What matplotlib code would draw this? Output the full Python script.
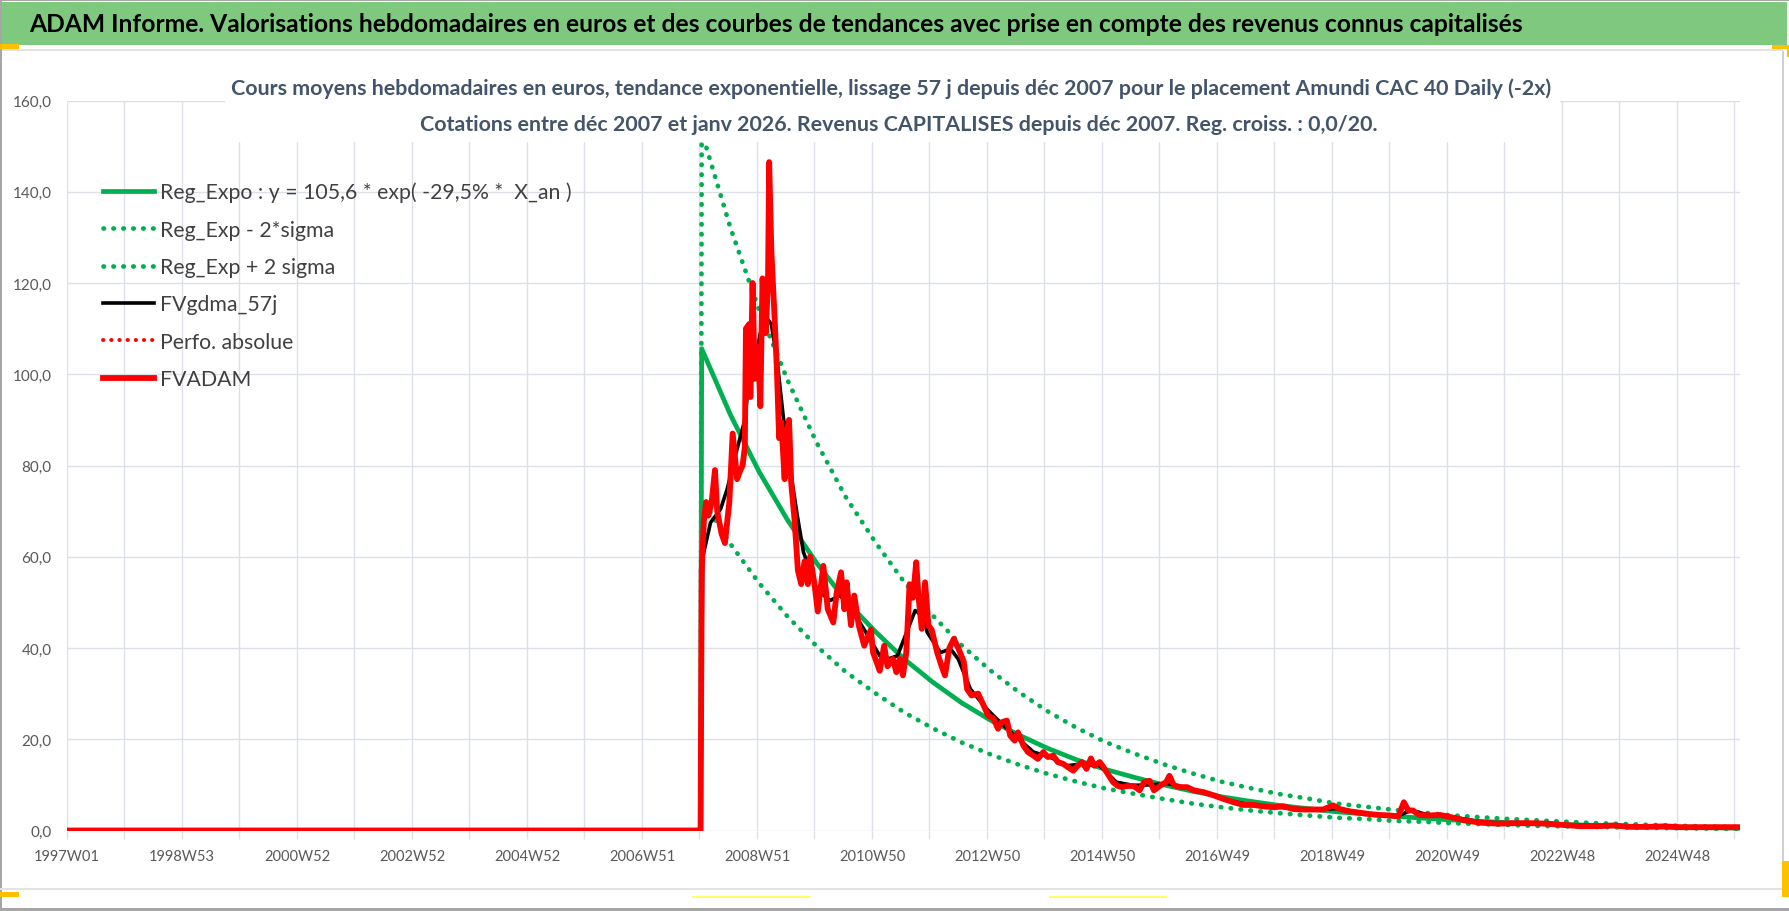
import matplotlib
matplotlib.use("Agg")
import matplotlib.pyplot as plt
from matplotlib import font_manager
from matplotlib.patches import Rectangle

W, H = 1790, 912

installed = {f.name for f in font_manager.fontManager.ttflist}
FONT = "Liberation Sans Narrow" if "Liberation Sans Narrow" in installed else "Lato"

# ---- data (week index counted from 1997W01) ----
x_tick_labels = ["1997W01", "1998W53", "2000W52", "2002W52", "2004W52", "2006W51",
                 "2008W51", "2010W50", "2012W50", "2014W50", "2016W49", "2018W49",
                 "2020W49", "2022W48", "2024W48"]
n_weeks = 1513

# exponential trend and +/- 2 sigma bands, read every half year
reg_weeks = [0, 573, 574, 600, 626, 652, 678, 704, 731, 757, 783, 809, 835, 861, 887,
             913, 939, 966, 992, 1018, 1044, 1070, 1096, 1122, 1148, 1175, 1201, 1227,
             1253, 1279, 1305, 1331, 1357, 1383, 1409, 1436, 1462, 1488, 1513]
reg_vals = [0, 0, 105.6, 91.1, 78.6, 67.9, 58.6, 50.5, 43.6, 37.6, 32.5, 28.0, 24.2,
            20.9, 18.0, 15.5, 13.4, 11.6, 10.0, 8.6, 7.4, 6.4, 5.5, 4.8, 4.1, 3.6, 3.1,
            2.7, 2.3, 2.0, 1.7, 1.5, 1.3, 1.1, 0.94, 0.81, 0.70, 0.60, 0.52]
up_vals = [0, 0, 153.1, 132.1, 114.0, 98.5, 85.0, 73.2, 63.2, 54.5, 47.1, 40.6, 35.1,
           30.3, 26.1, 22.5, 19.4, 16.8, 14.5, 12.5, 10.7, 9.3, 8.0, 7.0, 5.9, 5.2, 4.5,
           3.9, 3.3, 2.9, 2.5, 2.2, 1.9, 1.6, 1.4, 1.2, 1.0, 0.87, 0.75]
lo_vals = [0, 0, 72.8, 62.8, 54.2, 46.8, 40.4, 34.8, 30.1, 25.9, 22.4, 19.3, 16.7,
           14.4, 12.4, 10.7, 9.2, 8.0, 6.9, 5.9, 5.1, 4.4, 3.8, 3.3, 2.8, 2.5, 2.1,
           1.9, 1.6, 1.4, 1.2, 1.0, 0.9, 0.8, 0.65, 0.56, 0.48, 0.41, 0.36]

# FVgdma_57j (smoothed)
gdma_weeks = [0, 573, 575, 582, 591, 597, 606, 613, 615, 620, 627, 633, 637, 642, 648,
              651, 654, 660, 666, 678, 690, 699, 708, 717, 726, 735, 744, 751, 757, 767,
              774, 778, 790, 799, 806, 817, 832, 844, 859, 874, 889, 904, 919, 934, 949,
              964, 980, 995, 1010, 1030, 1050, 1070, 1090, 1110, 1130, 1150, 1170, 1190,
              1205, 1215, 1230, 1250, 1280, 1320, 1360, 1400, 1440, 1480, 1513]
gdma_vals = [0, 0, 60, 67.5, 70.4, 74.8, 83.6, 90, 94.7, 100, 109, 112.2, 111, 103.4,
             90.2, 86.5, 79.3, 69.7, 61, 52.9, 50.4, 51.5, 49.3, 45.6, 42, 38.3, 37.7,
             38.3, 42, 48.2, 47.1, 43.4, 39, 39.8, 37.6, 31, 26.6, 23.7, 20.4, 17.2, 16.1,
             14.2, 14.6, 14.2, 10.6, 9.9, 10.0, 10.3, 9.5, 8.3, 6.6, 5.6, 5.2, 4.8, 4.6,
             4.8, 3.9, 3.4, 3.3, 4.4, 3.5, 3.1, 1.8, 1.6, 1.2, 1.0, 0.85, 0.73, 0.72]

# Perfo. absolue (at zero before the quotations start, hidden under FVADAM)
perfo_weeks = [0, 573]
perfo_vals = [0, 0]

# FVADAM weekly values
adam_weeks = [0, 573, 574, 576, 578, 580, 583, 586, 588, 592, 595, 599, 602, 606, 609,
              611, 613, 614, 617, 618, 620, 622, 625, 627, 629, 632, 634, 635, 637, 640,
              642, 644, 646, 649, 650, 653, 655, 658, 661, 664, 667, 670, 672, 676, 679,
              684, 688, 693, 696, 700, 703, 705, 709, 712, 716, 721, 727, 729, 735, 739,
              742, 747, 750, 753, 756, 759, 762, 765, 768, 770, 773, 776, 779, 782, 787,
              791, 794, 798, 802, 806, 811, 814, 818, 824, 829, 833, 838, 842, 845, 850,
              853, 857, 860, 865, 869, 874, 878, 883, 887, 892, 896, 901, 905, 910, 914,
              918, 922, 926, 929, 934, 937, 941, 946, 950, 954, 960, 965, 970, 974, 979,
              983, 989, 994, 997, 1001, 1007, 1013, 1019, 1028, 1037, 1046, 1055, 1064,
              1073, 1082, 1091, 1100, 1109, 1118, 1127, 1136, 1145, 1151, 1160, 1169,
              1178, 1187, 1196, 1204, 1209, 1213, 1217, 1223, 1232, 1242, 1252, 1264,
              1279, 1294, 1309, 1324, 1339, 1354, 1369, 1384, 1399, 1414, 1429, 1444,
              1459, 1474, 1489, 1513]
adam_vals = [0, 0, 57, 68, 72, 69, 72, 79, 70, 65, 63, 72, 87, 77, 79,
             80, 84, 110, 111, 95, 120, 99, 106, 93, 121, 109, 121, 146.5, 127, 112,
             101, 86, 89.5, 77, 86, 90, 76, 68, 57, 54, 59, 54, 60, 54, 48,
             58, 48.5, 45.6, 52, 56.6, 48.5, 54.4, 45, 51.5, 45, 40.5, 44, 39, 35, 40.5,
             36, 37.6, 34.7, 37.6, 34, 39, 54, 51, 58.8, 51.5, 44.2, 54.4, 45, 44, 39,
             36, 34, 40, 42, 40, 37, 31, 29.6, 30, 27.4, 25.2, 24.5, 22.3, 23.7, 24.1,
             20.8, 19.7, 21.5, 18.6, 17.2, 16.4, 15.7, 17.2, 16.1, 16.4, 15, 14.6, 13.9, 13.1, 14.2,
             15, 13.5, 15.8, 14.2, 15, 14, 12.5, 10.6, 9.8, 9.5, 9.8, 9.7, 8.8, 10.6, 10.9,
             8.8, 9.9, 10.6, 12, 9.9, 9.5, 9.5, 8.8, 8.4, 7.7, 6.9, 6.2, 5.6,
             5.6, 5.3, 5.1, 5.3, 4.7, 4.6, 4.6, 4.6, 5.5, 4.7, 4.2, 3.9,
             3.6, 3.4, 3.3, 3.1, 6.2, 4.4, 4.4, 3.4, 3.3, 3.4, 2.9, 2.2,
             1.7, 1.5, 1.6, 1.6, 1.5, 1.2, 0.95, 0.95, 1.1, 0.8, 0.8, 0.9,
             0.73, 0.73, 0.73, 0.73]

title = ("ADAM Informe. Valorisations hebdomadaires en euros et des courbes de tendances "
         "avec prise en compte des revenus connus capitalisés")
sub1 = ("Cours moyens hebdomadaires en euros, tendance exponentielle, lissage 57 j depuis "
        "déc 2007 pour le placement Amundi CAC 40 Daily (-2x)")
sub2 = ("Cotations entre déc 2007 et janv 2026. Revenus CAPITALISES depuis déc 2007. "
        "Reg. croiss. : 0,0/20.")
legend_labels = ["Reg_Expo : y = 105,6 * exp( -29,5% *  X_an )", "Reg_Exp - 2*sigma",
                 "Reg_Exp + 2 sigma", "FVgdma_57j", "Perfo. absolue", "FVADAM"]

GREEN = "#00B050"
RED = "#FF0000"
GRID = "#dde1e7"
TICK = "#595959"

fig = plt.figure(figsize=(W / 100, H / 100), dpi=100)
renderer = fig.canvas.get_renderer()


def fit_size(s, width_px, weight="normal", base=20.0):
    t = fig.text(0, 0, s, fontsize=base, family=FONT, weight=weight)
    w = t.get_window_extent(renderer=renderer).width
    t.remove()
    return base * width_px / w


def fx(px):
    return px / W


def fy(py):
    return 1 - py / H


def box(x0, y0, x1, y1, color, z=1):
    fig.add_artist(Rectangle((fx(x0), fy(y1)), fx(x1) - fx(x0), fy(y0) - fy(y1),
                             transform=fig.transFigure, facecolor=color,
                             edgecolor="none", zorder=z))


# frame / decorations
box(0, 0, 1790, 2, "#a6a6a6")
box(0, 3, 1787, 46, "#7fc97f")
box(0, 50, 1783, 52, "#e3e3e3")
box(0, 0, 2, 912, "#a6a6a6")
box(1782, 52, 1784, 890, "#d0d0d0")
box(0, 889, 1783, 891, "#e3e3e3")
box(0, 909, 1790, 912, "#a6a6a6")
box(0, 45, 19, 50, "#ffc000")
box(1772, 46, 1790, 50, "#ffc000")
box(1787, 46, 1790, 58, "#ffc000")
box(0, 893, 19, 898, "#ffc000")
box(1782, 862, 1790, 898, "#ffc000")
box(692, 897, 811, 899, "#ffff66")
box(1049, 897, 1167, 899, "#ffff66")

fs_title = fit_size(title, 1496, "bold")
fig.text(fx(29), fy(25), title, fontsize=fs_title, family=FONT, weight="bold",
         color="black", ha="left", va="center", zorder=5)

# axes
ax = fig.add_axes([fx(67), fy(831.5), fx(1740) - fx(67), fy(101.5) - fy(831.5)])
ax.set_xlim(0, n_weeks)
ax.set_ylim(0, 160)
for s in ax.spines.values():
    s.set_visible(False)
ax.set_xticks(range(0, n_weeks, 104))
ax.set_xticklabels(x_tick_labels)
ax.set_xticks(range(52, n_weeks, 104), minor=True)
ax.set_yticks(range(0, 161, 20))
ax.set_yticklabels([f"{v},0" for v in range(0, 161, 20)])
ax.xaxis.grid(True, which="both", color=GRID, lw=1)
ax.yaxis.grid(True, which="major", color=GRID, lw=1)
ax.set_axisbelow(True)

fs_x = fit_size("1997W01", 66)
fs_y = fit_size("160,0", 39)
ax.tick_params(axis="x", which="both", length=6, width=1, color=GRID, direction="out",
               pad=7, labelsize=fs_x, labelcolor=TICK)
ax.tick_params(axis="y", length=0, pad=11, labelsize=fs_y, labelcolor=TICK)
for lab in ax.get_xticklabels() + ax.get_yticklabels():
    lab.set_family(FONT)

dots = (0, (0.1, 2.0))
ax.plot(reg_weeks, reg_vals, color=GREEN, lw=3.4, label=legend_labels[0])
ax.plot(reg_weeks, lo_vals, color=GREEN, lw=3.4, ls=dots, dash_capstyle="round",
        label=legend_labels[1])
ax.plot(reg_weeks, up_vals, color=GREEN, lw=3.4, ls=dots, dash_capstyle="round",
        label=legend_labels[2])
ax.plot(gdma_weeks, gdma_vals, color="black", lw=2.6, label=legend_labels[3])
ax.plot(perfo_weeks, perfo_vals, color=RED, lw=2.8, ls=dots, dash_capstyle="round",
        label=legend_labels[4])
ax.plot(adam_weeks, adam_vals, color=RED, lw=4.2, label=legend_labels[5])

# legend: first pass, then correct row spacing and top from measured text centres
fs_leg = fit_size(legend_labels[0], 410)
f_px = fs_leg * 100 / 72
row_h = 1.17 * f_px
spacing = (37.4 - row_h) / f_px
top_px = 193 - row_h / 2


def make_legend(spacing, top_px):
    lg = ax.legend(loc="upper left",
                   bbox_to_anchor=((103 - 67) / 1673, (831.5 - top_px) / 730),
                   frameon=False, borderpad=0, borderaxespad=0,
                   handlelength=51 / f_px, handletextpad=6 / f_px,
                   labelspacing=spacing,
                   prop={"family": FONT, "size": fs_leg})
    for t in lg.get_texts():
        t.set_color("#404040")
    return lg


leg = make_legend(spacing, top_px)
fig.canvas.draw()
centres = []
for t in leg.get_texts():
    bb = t.get_window_extent(renderer=renderer)
    centres.append(H - (bb.y0 + bb.y1) / 2)
actual = (centres[-1] - centres[0]) / (len(centres) - 1)
spacing += (37.4 - actual) / f_px
top_px += 193 - centres[0]
leg.remove()
leg = make_legend(spacing, top_px)

# subtitle block (covers the top of the grid)
box(225, 62, 1560, 143, "white", z=2)
fs_sub = fit_size(sub1, 1322, "bold")
fig.text(fx(891), fy(89), sub1, fontsize=fs_sub, family=FONT, weight="bold",
         color="#44546A", ha="center", va="center", zorder=3)
fig.text(fx(899), fy(125), sub2, fontsize=fs_sub, family=FONT, weight="bold",
         color="#44546A", ha="center", va="center", zorder=3)

fig.savefig("out.png", dpi=100)
